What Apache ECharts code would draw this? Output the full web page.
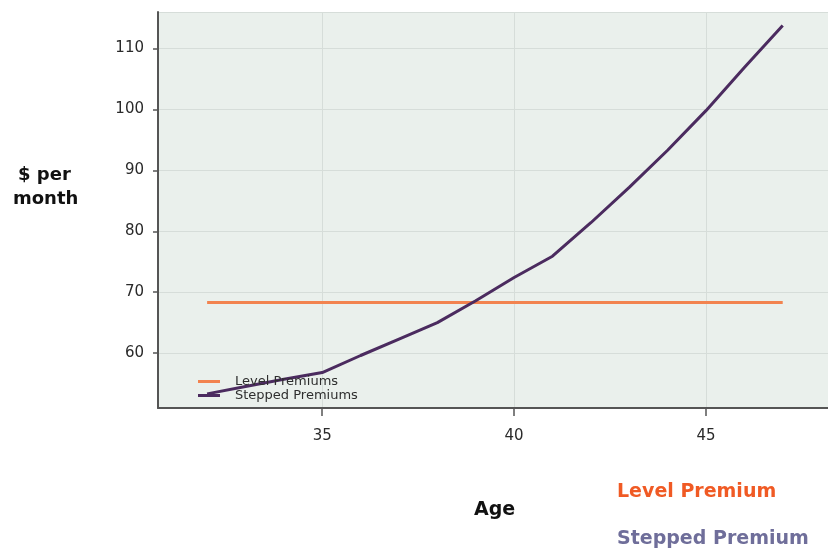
<!DOCTYPE html>
<html>
<head>
<meta charset="utf-8">
<script src="https://cdn.jsdelivr.net/npm/echarts@6/dist/echarts.min.js"></script>
<style>html,body{margin:0;padding:0;background:#fff;overflow:hidden}#c{width:828px;height:549px}</style>
</head>
<body>
<div id="c"></div>
<script>
const ages = [32,33,34,35,36,37,38,39,40,41,42,43,44,45,46,47];
const steppedPremiums = [53.3,54.5,55.7,56.8,59.6,62.3,65.0,68.6,72.4,75.9,81.4,87.2,93.3,99.8,106.9,113.8];
const levelAges = [32,47];
const levelPremiums = [68.3,68.3];
const seriesNames = ['Level Premiums','Stepped Premiums'];

const chart = echarts.init(document.getElementById('c'), null, {renderer:'canvas', width:828, height:549});
const font = 'DejaVu Sans';
chart.setOption({
  animation:false,
  backgroundColor:'#fff',
  grid:{left:158, top:12, width:670, height:396, show:true, backgroundColor:'#EAF0EC', borderWidth:0},
  legend:{
    orient:'vertical', left:193, top:370, itemGap:1, itemWidth:22, itemHeight:3,
    icon:'rect',
    textStyle:{fontFamily:font, fontSize:13, color:'#2e2e2e', padding:[0,0,0,10]},
    data:seriesNames
  },
  xAxis:{
    type:'value', min:30.72, max:48.18, splitNumber:3,
    axisLine:{show:true, onZero:false, lineStyle:{color:'#555', width:2}},
    axisTick:{show:true, length:8, lineStyle:{color:'#555', width:1.5}},
    axisLabel:{showMinLabel:false, showMaxLabel:false, margin:21, fontFamily:font, fontSize:15, color:'#2a2a2a'},
    splitLine:{show:true, lineStyle:{color:'#D6DDD9', width:1}}
  },
  yAxis:{
    type:'value', min:50.98, max:116,
    axisLine:{show:true, onZero:false, lineStyle:{color:'#555', width:2}},
    axisTick:{show:true, length:5, lineStyle:{color:'#555', width:1.5}},
    axisLabel:{showMinLabel:false, showMaxLabel:false, margin:14, fontFamily:font, fontSize:15, color:'#2a2a2a'},
    splitLine:{show:true, lineStyle:{color:'#D6DDD9', width:1}}
  },
  series:[
    {name:seriesNames[0], type:'line', showSymbol:false, symbol:'none',
     data:levelAges.map((a,i)=>[a, levelPremiums[i]]),
     itemStyle:{color:'#F2834F'}, lineStyle:{color:'#F2834F', width:3}},
    {name:seriesNames[1], type:'line', showSymbol:false, symbol:'none',
     data:ages.map((a,i)=>[a, steppedPremiums[i]]),
     itemStyle:{color:'#4B2B5F'}, lineStyle:{color:'#4B2B5F', width:3}}
  ],
  graphic:[
    {type:'text', left:18, top:166, style:{text:'$ per', fontFamily:font, fontWeight:'bold', fontSize:18, fill:'#111'}},
    {type:'text', left:13, top:190, style:{text:'month', fontFamily:font, fontWeight:'bold', fontSize:18, fill:'#111'}},
    {type:'text', left:474, top:501, style:{text:'Age', fontFamily:font, fontWeight:'bold', fontSize:19, fill:'#111'}},
    {type:'text', left:617, top:483, style:{text:'Level Premium', fontFamily:font, fontWeight:'bold', fontSize:19, fill:'#F05A24'}},
    {type:'text', left:617, top:530, style:{text:'Stepped Premium', fontFamily:font, fontWeight:'bold', fontSize:19, fill:'#6F6E9A'}}
  ]
});
</script>
</body>
</html>
